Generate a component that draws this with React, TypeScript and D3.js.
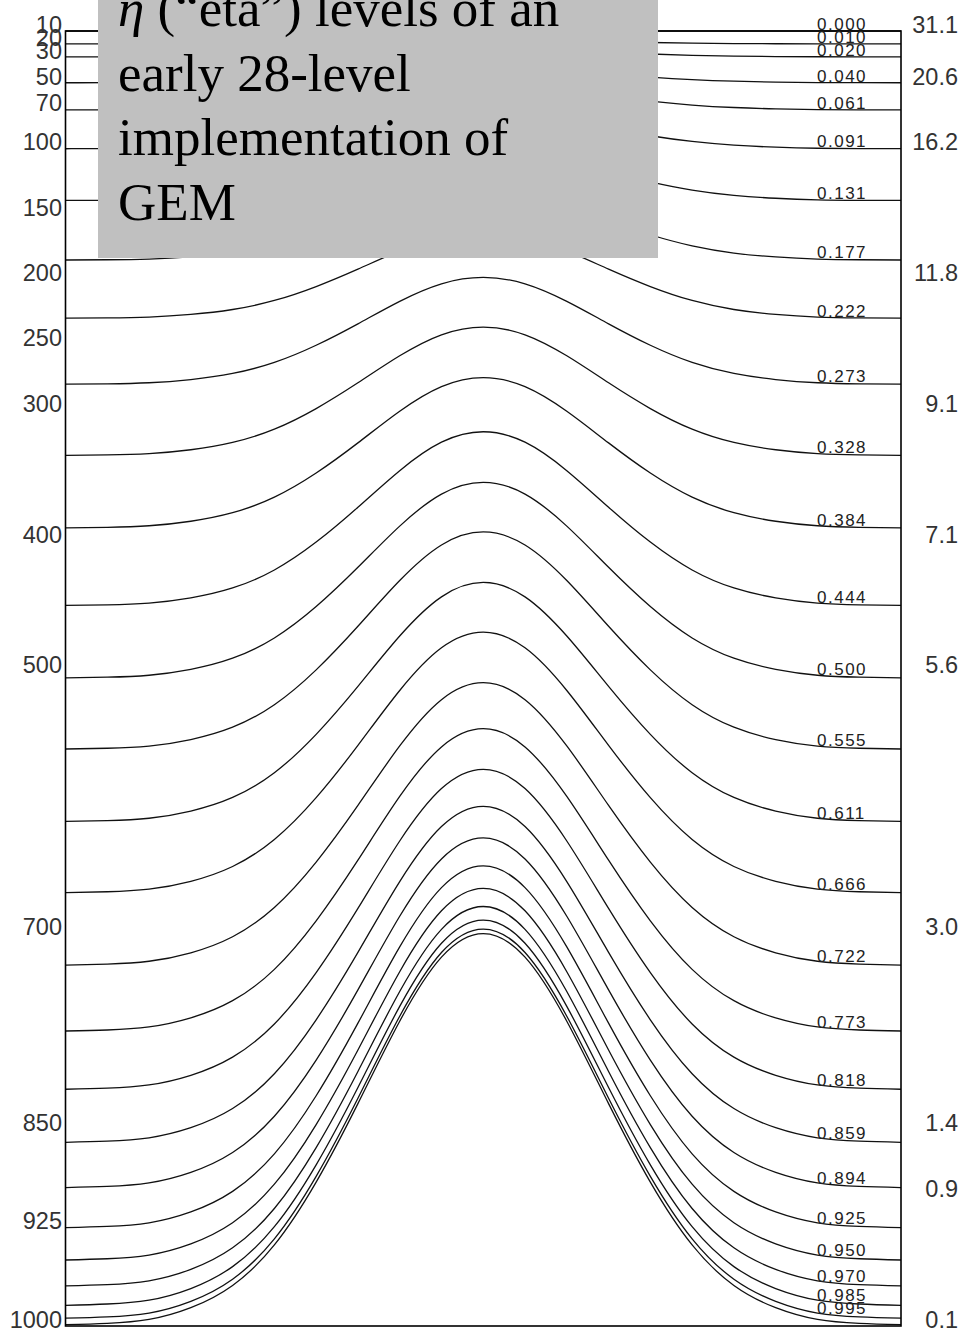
import React from "react";
import * as d3 from "d3";

const width = 964;
const height = 1331;

// eta (sigma-type) levels of the 28-level GEM set, top to surface
const etaLevels = [
  0, 0.01, 0.02, 0.04, 0.061, 0.091, 0.131, 0.177, 0.222, 0.273, 0.328, 0.384,
  0.444, 0.5, 0.555, 0.611, 0.666, 0.722, 0.773, 0.818, 0.859, 0.894, 0.925,
  0.95, 0.97, 0.985, 0.995, 1.0,
];
const etaLabels = [
  "0.000", "0.010", "0.020", "0.040", "0.061", "0.091", "0.131", "0.177",
  "0.222", "0.273", "0.328", "0.384", "0.444", "0.500", "0.555", "0.611",
  "0.666", "0.722", "0.773", "0.818", "0.859", "0.894", "0.925", "0.950",
  "0.970", "0.985", "0.995",
];

// model top and the mountain: surface pressure along the section
const topPressure = 10;
const distanceKm = [
  0, 50, 100, 150, 200, 250, 300, 350, 400, 450, 500, 550, 600, 650, 700, 750,
  800, 850, 900, 950, 1000,
];
const surfacePressure = [
  999, 998, 995, 986, 969, 938, 890, 830, 767, 718, 700, 718, 767, 830, 890,
  938, 969, 986, 995, 998, 999,
];

// left axis: pressure (hPa)
const pressureTicks = [10, 20, 30, 50, 70, 100, 150, 200, 250, 300, 400, 500, 700, 850, 925, 1000];
// right axis: height (km) at these pressures
const heightPressures = [10, 50, 100, 200, 300, 400, 500, 700, 850, 900, 1000];
const heightLabels = ["31.1", "20.6", "16.2", "11.8", "9.1", "7.1", "5.6", "3.0", "1.4", "0.9", "0.1"];

const titleRest = [" (\u201Ceta\u201D) levels of an", "early 28-level", "implementation of", "GEM"];

const margin = { left: 65.5, right: 901, top: 31, bottom: 1326 };
const sansFont = "'Liberation Sans', Arial, sans-serif";

const App = () => {
  const x = d3.scaleLinear().domain([0, 1000]).range([margin.left, margin.right]);
  const y = d3.scaleLinear().domain([10, 1000]).range([margin.top, margin.bottom]);
  const surfaceAt = d3.scaleLinear().domain(distanceKm).range(surfacePressure);

  const levelPressure = (eta: number, ps: number) => topPressure + eta * (ps - topPressure);

  const line = d3
    .line<[number, number]>()
    .x((d) => x(d[0]))
    .y((d) => y(d[1]))
    .curve(d3.curveNatural);

  const labelX = 817;
  const psAtLabel = surfaceAt(x.invert(840));

  return (
    <svg width={width} height={height} style={{ position: "absolute", left: 0, top: 0 }}>
      <rect x={0} y={0} width={width} height={height} fill="#fff" />
      {/* eta levels */}
      <g fill="none" stroke="#111" strokeWidth={1.3}>
        {etaLevels.map((eta, i) => (
          <path
            key={i}
            d={line(distanceKm.map((k, j) => [k, levelPressure(eta, surfacePressure[j])])) || ""}
          />
        ))}
      </g>
      {/* frame */}
      <rect
        x={margin.left}
        y={margin.top}
        width={margin.right - margin.left}
        height={margin.bottom - margin.top}
        fill="none"
        stroke="#000"
        strokeWidth={1.6}
      />
      {/* eta labels */}
      <g fontFamily={sansFont} fontSize={17} fill="#222" letterSpacing={1.5}>
        {etaLabels.map((lab, i) => (
          <text key={lab} x={labelX} y={y(levelPressure(etaLevels[i], psAtLabel)) - 1}>
            {lab}
          </text>
        ))}
      </g>
      {/* pressure axis */}
      <g fontFamily={sansFont} fontSize={23.5} fill="#333" textAnchor="end">
        {pressureTicks.map((p) => (
          <text key={p} x={62} y={y(p) + 1.5}>
            {p}
          </text>
        ))}
      </g>
      {/* height axis */}
      <g fontFamily={sansFont} fontSize={23.5} fill="#333" textAnchor="end">
        {heightPressures.map((p, i) => (
          <text key={p} x={958} y={y(p) + 1.5}>
            {heightLabels[i]}
          </text>
        ))}
      </g>
      {/* title box */}
      <rect x={98} y={0} width={560} height={258} fill="#c0c0c0" />
      <g fontFamily="'Liberation Serif', 'Times New Roman', serif" fontSize={53} fill="#000">
        <text x={118} y={26}>
          <tspan fontStyle="italic">η</tspan>
          {titleRest[0]}
        </text>
        {titleRest.slice(1).map((t, i) => (
          <text key={t} x={118} y={90.7 + i * 64.7}>
            {t}
          </text>
        ))}
      </g>
    </svg>
  );
};

export default App;
